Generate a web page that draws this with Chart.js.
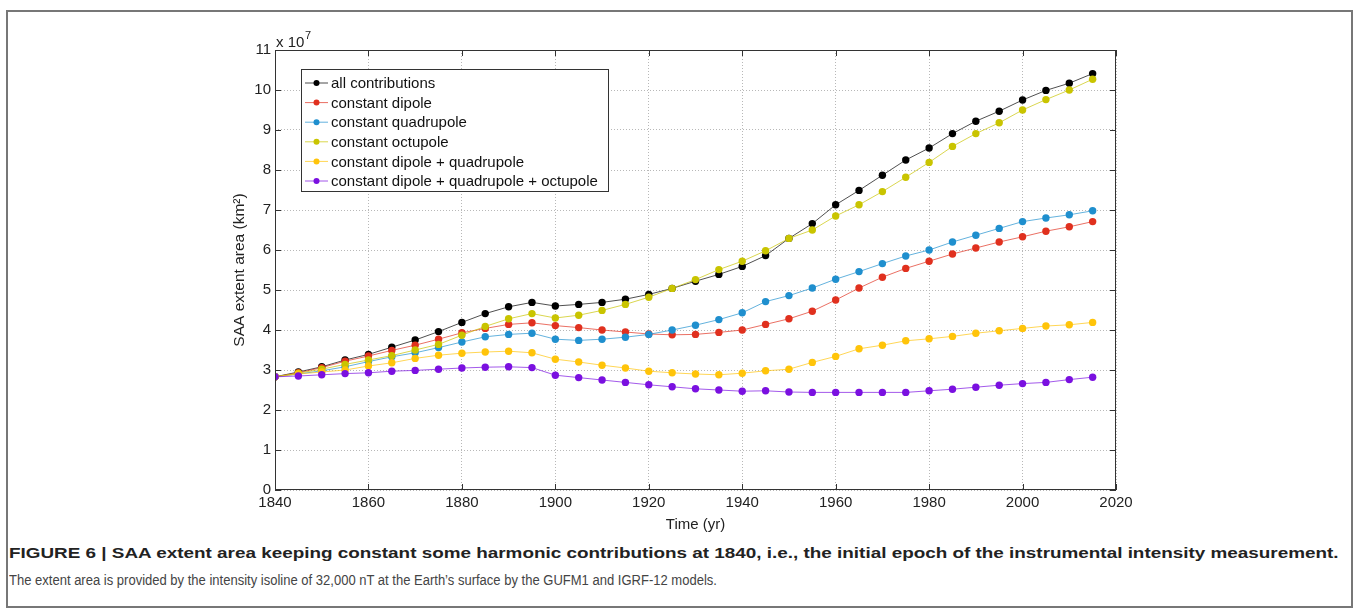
<!DOCTYPE html>
<html>
<head>
<meta charset="utf-8">
<script src="https://cdn.jsdelivr.net/npm/chart.js@4/dist/chart.umd.min.js"></script>
<style>
  html, body { margin: 0; padding: 0; background: #fff; }
  body { width: 1360px; height: 614px; position: relative; overflow: hidden; font-family: "Liberation Sans", Arial, sans-serif; }
  #frame { position: absolute; left: 6px; top: 10px; width: 1347px; height: 598px; border: 2px solid #777; box-sizing: border-box; }
  #wrap { position: absolute; left: 0; top: 0; width: 1360px; height: 534px; }
  .cap { position: absolute; left: 9px; white-space: nowrap; transform-origin: 0 0; }
  #cap1 { top: 544px; font-weight: bold; font-size: 15.5px; color: #222; }
  #cap2 { top: 571px; font-size: 15.5px; color: #444; }
</style>
</head>
<body>
<div id="frame"></div>
<div id="wrap"><canvas id="saa" width="1360" height="534"></canvas></div>
<div class="cap" id="cap1">FIGURE 6 | SAA extent area keeping constant some harmonic contributions at 1840, i.e., the initial epoch of the instrumental intensity measurement.</div>
<div class="cap" id="cap2">The extent area is provided by the intensity isoline of 32,000 nT at the Earth’s surface by the GUFM1 and IGRF-12 models.</div>
<script>
// values in units of 10^7 km^2, one point every 5 years
const years = [1840, 1845, 1850, 1855, 1860, 1865, 1870, 1875, 1880, 1885, 1890, 1895,
    1900, 1905, 1910, 1915, 1920, 1925, 1930, 1935, 1940, 1945, 1950, 1955,
    1960, 1965, 1970, 1975, 1980, 1985, 1990, 1995, 2000, 2005, 2010, 2015];

const allContributions = [2.83, 2.95, 3.08, 3.25, 3.39, 3.57, 3.75, 3.96, 4.19, 4.41, 4.58, 4.69,
    4.60, 4.64, 4.69, 4.77, 4.89, 5.04, 5.22, 5.39, 5.59, 5.86, 6.29, 6.66,
    7.13, 7.49, 7.87, 8.25, 8.55, 8.91, 9.22, 9.47, 9.75, 9.99, 10.17, 10.41];
const constDipole = [2.83, 2.93, 3.06, 3.22, 3.35, 3.49, 3.62, 3.77, 3.93, 4.04, 4.14, 4.18,
    4.11, 4.06, 4.00, 3.95, 3.90, 3.88, 3.89, 3.94, 4.00, 4.14, 4.28, 4.47,
    4.75, 5.05, 5.32, 5.54, 5.72, 5.90, 6.05, 6.20, 6.33, 6.47, 6.58, 6.71];
const constQuadrupole = [2.83, 2.90, 2.98, 3.08, 3.21, 3.33, 3.43, 3.56, 3.70, 3.83, 3.89, 3.92,
    3.77, 3.74, 3.77, 3.82, 3.89, 4.00, 4.12, 4.26, 4.43, 4.71, 4.86, 5.05,
    5.27, 5.46, 5.66, 5.85, 6.00, 6.20, 6.37, 6.54, 6.71, 6.80, 6.88, 6.98];
const constOctupole = [2.83, 2.92, 3.02, 3.14, 3.25, 3.36, 3.50, 3.64, 3.87, 4.09, 4.28, 4.41,
    4.30, 4.37, 4.49, 4.64, 4.82, 5.04, 5.26, 5.51, 5.72, 5.98, 6.29, 6.50,
    6.85, 7.13, 7.46, 7.82, 8.19, 8.59, 8.91, 9.18, 9.50, 9.76, 10.00, 10.27];
const constDipQuad = [2.83, 2.90, 2.95, 3.00, 3.10, 3.18, 3.29, 3.37, 3.42, 3.45, 3.47, 3.43,
    3.27, 3.20, 3.12, 3.05, 2.97, 2.93, 2.90, 2.88, 2.92, 2.98, 3.02, 3.19,
    3.34, 3.53, 3.62, 3.73, 3.78, 3.84, 3.92, 3.98, 4.04, 4.10, 4.13, 4.19];
const constDipQuadOct = [2.83, 2.85, 2.88, 2.91, 2.93, 2.97, 2.99, 3.02, 3.05, 3.07, 3.08, 3.06,
    2.87, 2.81, 2.75, 2.69, 2.63, 2.58, 2.53, 2.50, 2.47, 2.48, 2.45, 2.44,
    2.44, 2.44, 2.44, 2.44, 2.48, 2.52, 2.57, 2.62, 2.66, 2.69, 2.76, 2.82];

const seriesNames = ['all contributions', 'constant dipole', 'constant quadrupole',
    'constant octupole', 'constant dipole + quadrupole', 'constant dipole + quadrupole + octupole'];
const seriesValues = [allContributions, constDipole, constQuadrupole, constOctupole, constDipQuad, constDipQuadOct];
const seriesColors = ['#000000', '#e0301e', '#1f8fce', '#c9c400', '#ffc40a', '#7a10e0'];

const yTicks = [0, 1, 2, 3, 4, 5, 6, 7, 8, 9, 10, 11];
const xTicks = [1840, 1860, 1880, 1900, 1920, 1940, 1960, 1980, 2000, 2020];

const tickFont = { family: 'Liberation Sans', size: 15 };
const titleFont = { family: 'Liberation Sans', size: 15.5 };

// caption lines stretched to the widths they have in the figure
function fitCaption (id, targetWidth) {
    const el = document.getElementById(id);
    el.style.transform = `scaleX(${targetWidth / el.offsetWidth})`;
}
fitCaption('cap1', 1330);
fitCaption('cap2', 708);

// box, inward ticks, exponent label and legend (MATLAB look)
const matlabDecor = {
    id: 'matlabDecor',
    afterDatasetsDraw (chart) {
        const { ctx, chartArea: a, scales } = chart;
        ctx.save();
        ctx.strokeStyle = '#333';
        ctx.lineWidth = 1;
        ctx.strokeRect(a.left + 0.5, a.top + 0.5, a.width - 1, a.height - 1);
        ctx.beginPath();
        yTicks.forEach(v => {
            const py = Math.round(scales.y.getPixelForValue(v)) + 0.5;
            ctx.moveTo(a.left, py); ctx.lineTo(a.left + 6, py);
            ctx.moveTo(a.right, py); ctx.lineTo(a.right - 6, py);
        });
        xTicks.forEach(v => {
            const px = Math.round(scales.x.getPixelForValue(v)) + 0.5;
            ctx.moveTo(px, a.bottom); ctx.lineTo(px, a.bottom - 6);
            ctx.moveTo(px, a.top); ctx.lineTo(px, a.top + 6);
        });
        ctx.stroke();

        ctx.fillStyle = '#222';
        ctx.textBaseline = 'alphabetic';
        ctx.font = '15px "Liberation Sans"';
        ctx.fillText('x 10', a.left + 1, a.top - 3);
        ctx.font = '11px "Liberation Sans"';
        ctx.fillText('7', a.left + 30, a.top - 11);

        // legend box
        const lx = a.left + 26, ly = a.top + 19, lw = 307, lh = 122;
        ctx.fillStyle = '#fff';
        ctx.fillRect(lx, ly, lw, lh);
        ctx.strokeStyle = '#333';
        ctx.strokeRect(lx + 0.5, ly + 0.5, lw, lh);
        ctx.font = '15px "Liberation Sans"';
        ctx.textBaseline = 'middle';
        seriesNames.forEach((name, i) => {
            const cy = ly + 14 + i * 19.6;
            ctx.strokeStyle = seriesColors[i];
            ctx.globalAlpha = 0.7;
            ctx.beginPath();
            ctx.moveTo(lx + 4, cy); ctx.lineTo(lx + 27, cy);
            ctx.stroke();
            ctx.globalAlpha = 1;
            ctx.fillStyle = seriesColors[i];
            ctx.beginPath();
            ctx.arc(lx + 15.5, cy, 3, 0, Math.PI * 2);
            ctx.fill();
            ctx.fillStyle = '#111';
            ctx.fillText(name, lx + 30, cy + 1);
        });
        ctx.restore();
    }
};

new Chart(
    document.getElementById('saa'),
    {
        type: 'line',
        data: {
            datasets: seriesNames.map((name, i) => ({
                label: name,
                data: years.map((yr, j) => ({ x: yr, y: seriesValues[i][j] })),
                borderColor: seriesColors[i] + 'b0',
                backgroundColor: seriesColors[i],
                borderWidth: 1,
                pointRadius: 3.7,
                pointBorderWidth: 0,
                pointBackgroundColor: seriesColors[i],
                tension: 0,
                order: 5 - i
            }))
        },
        options: {
            responsive: false,
            animation: false,
            events: [],
            layout: {
                padding: { left: 230, right: 244, top: 50, bottom: 0 }
            },
            plugins: {
                legend: { display: false },
                tooltip: { enabled: false }
            },
            scales: {
                x: {
                    type: 'linear',
                    min: 1840,
                    max: 2020,
                    afterBuildTicks: (scale) => { scale.ticks = xTicks.map(v => ({ value: v })); },
                    afterFit: (scale) => { scale.height = 44; },
                    grid: {
                        color: '#b8b8b8',
                        lineWidth: 1,
                        drawTicks: false
                    },
                    border: { display: false, dash: [1, 2] },
                    ticks: {
                        font: tickFont,
                        color: '#222',
                        padding: 4,
                        maxRotation: 0,
                        callback: (v) => String(v)
                    },
                    title: {
                        display: true,
                        text: 'Time (yr)',
                        font: tickFont,
                        color: '#222',
                        padding: { top: 0, bottom: 0 }
                    }
                },
                y: {
                    min: 0,
                    max: 11,
                    afterBuildTicks: (scale) => { scale.ticks = yTicks.map(v => ({ value: v })); },
                    afterFit: (scale) => { scale.width = 45; },
                    grid: {
                        color: '#b8b8b8',
                        lineWidth: 1,
                        drawTicks: false
                    },
                    border: { display: false, dash: [1, 2] },
                    ticks: {
                        font: tickFont,
                        color: '#222',
                        padding: 4
                    },
                    title: {
                        display: true,
                        text: 'SAA extent area (km²)',
                        font: titleFont,
                        color: '#222',
                        padding: { top: 0, bottom: 0 }
                    }
                }
            }
        },
        plugins: [matlabDecor]
    }
);
</script>
</body>
</html>
